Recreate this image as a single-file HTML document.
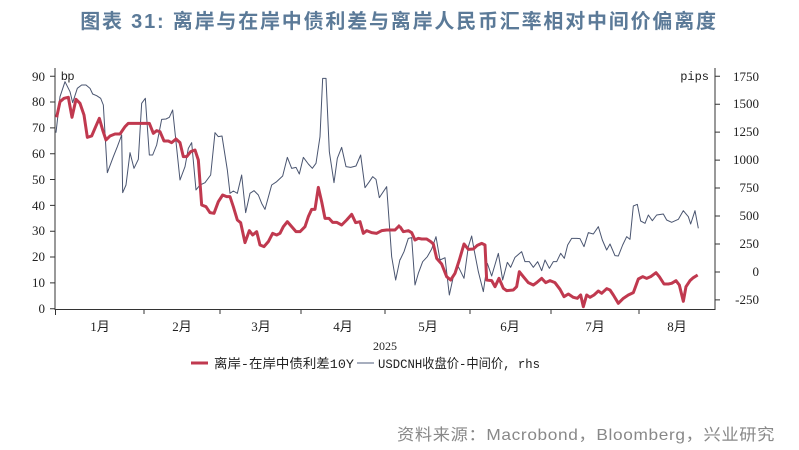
<!DOCTYPE html>
<html><head><meta charset="utf-8"><style>
body{margin:0;background:#fff;width:799px;height:450px;overflow:hidden;font-family:"Liberation Sans","Noto Sans CJK SC",sans-serif}
</style></head><body>
<svg width="799" height="450" xmlns="http://www.w3.org/2000/svg" style="position:absolute;left:0;top:0">
<text x="399" y="28" text-anchor="middle" font-size="20" letter-spacing="1.8" font-weight="bold" fill="#5b7a98" font-family="'Liberation Sans','Noto Sans CJK SC',sans-serif">图表 31: 离岸与在岸中债利差与离岸人民币汇率相对中间价偏离度</text>
<g stroke="#333" stroke-width="1" fill="none">
<line x1="55" y1="68" x2="55" y2="310"/>
<line x1="715" y1="68" x2="715" y2="310"/>
<line x1="55" y1="309.5" x2="715" y2="309.5"/>
<path d="M50 308.7H55M50 282.9H55M50 257H55M50 231.2H55M50 205.4H55M50 179.5H55M50 153.7H55M50 127.9H55M50 102H55M50 76.3H55"/>
<path d="M715 299.9H720M715 272H720M715 244H720M715 216H720M715 188H720M715 160.1H720M715 132.1H720M715 104.2H720M715 76.3H720"/>
<path d="M55.5 309V315M144 309V314M220 309V314M301 309V314M385 309V314M470 309V314M551 309V314M639 309V314"/>
</g>
<g font-family="'Liberation Serif',serif" font-size="13" fill="#222" text-anchor="end">
<text x="45" y="313">0</text><text x="45" y="287">10</text><text x="45" y="261">20</text><text x="45" y="235">30</text><text x="45" y="210">40</text><text x="45" y="184">50</text><text x="45" y="158">60</text><text x="45" y="132">70</text><text x="45" y="106">80</text><text x="45" y="81">90</text>
</g>
<g font-family="'Liberation Serif',serif" font-size="13" fill="#222" text-anchor="end">
<text x="759" y="304">-250</text><text x="759" y="276">0</text><text x="759" y="248">250</text><text x="759" y="220">500</text><text x="759" y="192">750</text><text x="759" y="164">1000</text><text x="759" y="136">1250</text><text x="759" y="108">1500</text><text x="759" y="81">1750</text>
</g>
<text x="61" y="80" font-size="12" fill="#222">bp</text>
<text x="709" y="80" font-size="12" fill="#222" text-anchor="end" font-family="'Liberation Mono',monospace">pips</text>
<g font-size="13" fill="#222" text-anchor="middle" font-family="'Liberation Serif','Noto Sans CJK SC',serif">
<text x="100" y="331">1月</text><text x="182" y="331">2月</text><text x="261" y="331">3月</text><text x="343" y="331">4月</text><text x="428" y="331">5月</text><text x="510" y="331">6月</text><text x="595" y="331">7月</text><text x="677" y="331">8月</text>
<text x="385" y="350" font-size="12">2025</text>
</g>
<g transform="translate(0,60) scale(0.33333)" fill="none" stroke-linejoin="round">
<polyline vector-effect="non-scaling-stroke" stroke="#4a5570" stroke-width="1" points="168,218 180,110 195,65 210,95 218,128 232,85 245,75 258,75 270,85 278,102 290,107 302,115 310,135 322,338 340,290 352,260 365,225 368,398 378,375 390,278 402,325 415,298 425,130 436,115 448,285 458,285 470,255 485,178 498,177 508,172 518,150 540,360 555,320 565,265 575,248 588,390 600,375 615,368 632,345 645,218 655,230 666,228 682,330 690,400 700,393 712,400 725,345 737,458 750,400 762,392 775,405 785,430 795,448 815,375 830,365 848,348 862,292 875,325 888,322 898,342 910,292 925,312 937,325 948,310 960,230 968,55 978,55 988,275 1002,368 1012,295 1025,262 1038,320 1052,322 1068,318 1082,285 1095,383 1108,365 1118,350 1128,358 1138,413 1160,380 1175,590 1187,660 1200,598"/>
<polyline vector-effect="non-scaling-stroke" stroke="#c0394f" stroke-width="3" points="170,172 180,125 192,115 205,112 216,172 228,118 240,130 252,165 262,232 275,228 287,200 298,175 308,210 318,240 330,228 345,222 360,222 375,200 385,190 440,190 448,190 460,220 470,212 480,215 492,243 505,243 515,248 528,237 540,248 550,290 560,290 572,275 585,270 595,300 605,435 618,440 630,458 642,460 655,425 668,405 680,410 690,410 700,440 712,480 722,488 735,548 748,512 758,525 770,515 780,555 792,560 805,545 818,520 830,525 840,520 850,500 862,485 875,500 888,515 900,515 915,500 925,470 935,448 945,448 955,382 965,425 975,475 987,475 998,487 1010,487 1025,495 1040,480 1055,463 1067,488 1080,485 1090,520 1100,512 1115,518 1130,520 1145,512 1160,510 1185,510 1200,495"/>
</g>
<g transform="translate(400,60) scale(0.33333)" fill="none" stroke-linejoin="round">
<polyline vector-effect="non-scaling-stroke" stroke="#4a5570" stroke-width="1" points="0,600 12,575 25,535 35,533 45,675 55,640 68,605 82,590 95,567 108,530 120,600 135,593 148,705 160,650 175,620 192,655 205,560 215,528 222,568 235,635 250,695 262,610 275,648 295,580 308,660 322,607 332,622 345,592 365,575 375,605 388,605 400,622 413,605 425,632 435,600 448,625 460,605 470,605 482,580 493,595 503,555 515,535 530,535 540,536 552,560 565,518 580,522 595,500 607,540 620,570 630,552 645,587 655,588 668,555 680,530 690,538 700,438 712,433 722,483 735,490 745,465 757,482 770,465 790,462 800,480 815,487 835,478 850,452 865,470 872,492 885,452 895,505"/>
<polyline vector-effect="non-scaling-stroke" stroke="#c0394f" stroke-width="3" points="0,500 10,515 25,512 35,518 45,540 55,535 65,537 80,537 92,545 100,552 110,595 125,612 140,650 152,660 165,640 178,600 192,552 205,568 220,567 232,556 245,550 255,555 260,660 275,662 285,680 297,655 310,685 320,692 340,690 350,680 358,635 370,650 385,668 400,675 410,668 425,655 437,668 450,662 465,668 480,688 492,710 505,702 520,712 532,715 542,705 550,740 560,705 570,712 582,705 595,693 605,700 620,686 630,690 640,705 655,730 670,715 685,705 700,698 715,657 728,650 740,655 752,650 768,638 778,650 792,672 805,672 815,670 828,662 838,675 850,724 858,680 870,662 880,653 893,645"/>
</g>
<line x1="191" y1="363" x2="208" y2="363" stroke="#c0394f" stroke-width="3"/>
<line x1="357" y1="363" x2="374" y2="363" stroke="#8a93a8" stroke-width="1.5"/>
<g font-size="13" fill="#222" font-family="'Liberation Mono','Noto Sans CJK SC',monospace">
<text x="214" y="368" textLength="140" lengthAdjust="spacingAndGlyphs">离岸-在岸中债利差10Y</text>
<text x="378" y="368" textLength="162" lengthAdjust="spacingAndGlyphs">USDCNH收盘价-中间价, rhs</text>
</g>
<text x="775" y="440" text-anchor="end" font-size="16" letter-spacing="0.6" fill="#888" textLength="378" lengthAdjust="spacingAndGlyphs">资料来源：Macrobond，Bloomberg，兴业研究</text>
</svg>
</body></html>
